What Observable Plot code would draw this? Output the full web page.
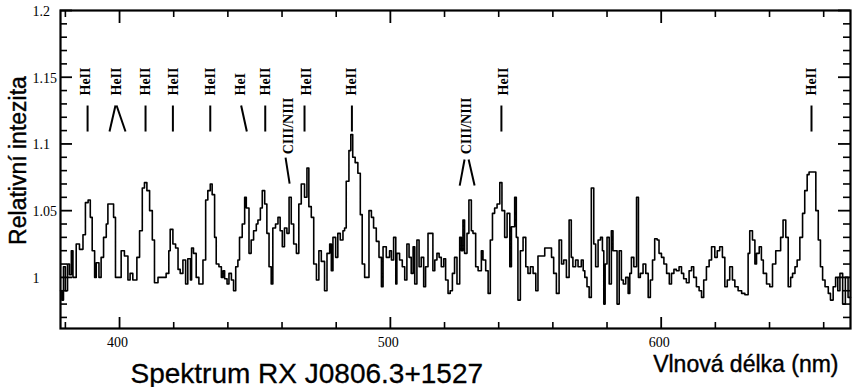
<!DOCTYPE html>
<html><head><meta charset="utf-8">
<script src="https://cdn.jsdelivr.net/npm/d3@7"></script>
<script src="https://cdn.jsdelivr.net/npm/@observablehq/plot@0.6"></script>
<style>body{margin:0;background:#fff}</style>
</head><body><div id="chart"></div>
<script>
const wavelength = [378.2,378.7,379.3,380.0,380.8,381.5,382.2,382.8,384.0,385.2,386.5,387.4,388.4,389.2,389.9,390.8,391.4,392.4,393.2,394.1,395.1,395.7,397.8,398.5,400.6,401.8,403.1,403.9,404.9,406.4,407.4,408.4,409.2,410.1,411.1,412.1,412.9,414.2,417.2,418.2,418.7,419.7,420.7,421.6,422.4,423.4,424.4,425.2,426.2,426.6,427.3,428.3,429.3,430.8,431.8,432.6,433.5,434.2,435.1,435.7,436.7,437.6,438.2,438.8,439.7,440.4,441.3,442.1,442.9,443.7,444.3,445.3,446.2,446.8,447.8,448.6,449.5,450.5,451.1,452.0,452.7,453.6,454.4,455.2,456.0,456.6,457.6,458.5,459.3,460.1,460.9,461.8,462.6,463.4,464.3,465.3,466.2,467.1,468.3,469.2,469.9,470.8,471.7,472.7,473.6,474.5,475.7,476.6,477.6,478.2,478.8,479.8,480.6,481.5,482.5,483.1,483.7,484.7,485.4,486.1,487.0,488.0,488.9,489.6,490.5,492.1,493.0,493.8,494.8,495.8,496.7,497.3,498.5,499.7,500.4,501.2,502.0,502.4,503.4,504.4,505.3,506.1,506.9,507.7,508.4,509.0,509.8,510.6,511.4,512.3,513.0,513.9,515.7,516.4,517.2,518.0,518.8,519.7,520.4,521.3,522.1,522.9,523.7,524.6,525.6,526.2,526.8,527.4,528.3,529.0,529.9,530.5,531.5,532.4,533.6,534.2,535.2,536.1,536.9,537.7,538.5,539.4,540.4,541.2,542.2,543.1,544.1,544.7,545.9,546.5,547.1,548.0,549.0,550.0,550.8,551.7,552.7,553.7,554.5,557.0,559.5,560.3,561.3,562.3,563.2,564.0,565.0,566.0,566.8,567.4,568.4,569.3,570.5,571.2,571.8,572.6,573.4,574.2,575.1,575.8,576.7,577.6,578.3,578.8,579.3,580.0,580.8,581.6,582.2,583.7,584.5,585.3,586.0,586.9,587.8,588.4,589.0,589.9,590.9,591.6,592.3,593.3,594.3,595.2,596.0,596.8,597.6,598.5,599.2,600.1,601.0,602.0,603.0,603.8,604.7,605.6,606.6,607.5,608.3,609.3,610.3,611.2,612.0,613.0,614.0,614.9,615.7,616.7,617.7,618.6,619.8,620.7,621.6,622.6,623.5,624.4,625.3,626.3,627.2,628.4,629.7,630.9,632.1,632.7,633.7,634.6,635.2,636.2,637.0,637.7,638.9,640.1,641.1,642.3,644.1,645.0,646.0,646.9,647.8,648.5,649.4,650.2,651.2,652.2,653.0,653.9,654.6,657.1,658.0,658.8,659.6,660.5,661.7,662.5,663.5,664.4,665.2,666.0,667.0,668.0,669.0,669.9];
const intensity = [0.99,0.983,1.008,0.99,1.01,1.002,1.02,1.0,1.025,1.021,1.032,1.056,1.058,1.045,1.02,1.0,1.011,1.0,1.015,1.03,1.04,1.055,1.045,1.0,1.02,1.016,0.998,1.003,0.998,1.015,1.035,1.067,1.071,1.065,1.05,1.028,0.996,1.0,1.003,1.02,1.036,1.025,1.022,1.006,1.003,1.013,0.995,1.014,0.998,1.022,1.018,1.0,0.995,1.013,1.058,1.065,1.07,1.062,1.03,1.01,1.008,1.0,1.005,0.999,0.995,1.003,0.998,0.99,1.008,1.013,1.03,1.04,1.06,1.052,1.018,1.028,1.035,1.04,1.043,1.052,1.065,1.055,1.033,1.008,0.995,1.037,1.04,1.045,1.035,1.023,1.037,1.033,1.06,1.04,1.025,1.018,1.055,1.07,1.06,1.082,1.053,1.045,1.01,0.998,1.02,1.012,0.99,1.018,1.025,1.005,1.03,1.015,1.033,1.028,1.035,1.037,1.072,1.095,1.107,1.09,1.086,1.078,1.047,1.01,1.0,1.05,1.045,1.037,1.027,1.015,0.993,1.023,1.015,1.02,1.013,1.03,0.995,1.018,1.013,1.008,0.998,1.025,1.015,1.003,1.023,0.995,1.028,1.008,1.015,0.993,1.008,1.033,1.005,1.013,1.018,1.015,1.008,1.014,0.998,0.988,0.99,1.003,1.015,0.995,1.03,1.02,1.043,1.018,1.033,1.058,1.035,1.033,1.008,1.005,1.02,1.013,1.005,0.988,1.028,1.048,1.052,1.055,1.071,1.05,1.03,1.048,1.008,1.038,1.06,1.03,0.983,1.02,1.03,1.008,1.003,1.008,1.003,0.99,1.016,1.022,1.015,1.003,0.988,1.028,1.01,1.013,1.0,1.043,1.015,1.008,1.013,1.008,1.013,1.005,1.0,0.993,0.985,1.067,1.025,1.008,1.028,1.03,1.02,0.98,1.01,1.03,0.995,1.035,1.02,0.98,1.02,0.998,0.995,1.0,0.988,1.003,1.015,1.008,1.06,1.0,1.003,1.01,1.003,0.985,0.998,1.013,1.029,1.028,1.018,1.015,1.01,1.003,0.995,1.003,1.006,1.005,1.008,1.003,0.999,0.996,1.005,1.008,1.0,0.993,0.99,0.985,0.998,1.008,1.013,1.023,1.015,1.02,1.023,1.015,0.993,0.998,1.008,0.998,0.993,0.99,0.988,0.987,1.018,1.035,1.028,1.01,1.018,1.023,1.013,1.003,0.995,0.993,1.01,1.02,1.03,1.043,1.03,0.993,1.0,1.003,1.008,1.013,1.03,1.048,1.065,1.077,1.079,1.05,1.028,1.008,0.998,0.993,0.988,0.983,0.993,1.0,0.99,1.003,0.98,1.0,0.985,0.985];

const xTickValues = [400, 500, 600];
const xTickLabels = ["400", "500", "600"];
const xMinorTicks = [380,420,440,460,480,520,540,560,580,620,640,660];
const yTickValues = [1, 1.05, 1.1, 1.15, 1.2];
const yTickLabels = ["1", "1.05", "1.1", "1.15", "1.2"];
const yMinorTicks = [0.97,0.98,0.99,1.01,1.02,1.03,1.04,1.06,1.07,1.08,1.09,1.11,1.12,1.13,1.14,1.16,1.17,1.18,1.19];

// He lines: label bottoms sit just above the marker ticks
const heNames = ["HeII","HeII","HeII","HeII","HeII","HeI","HeII","HeII","HeII","HeII","HeII"];
const heLabelX = [387.4,398.9,409.6,420.0,433.6,444.7,454.0,469.1,485.8,541.6,655.4];
const heLabelY = 1.1363;
// CIII/NIII blends: label tops at the same height
const cnNames = ["CIII/NIII","CIII/NIII"];
const cnLabelX = [462.5,528.1];
const cnLabelY = 1.1348;

const markerX1 = [388.2,396.3,398.9,409.6,419.7,433.5,444.9,453.8,461.3,468.3,485.8,525.6,528.9,541.0,655.5];
const markerX2 = [388.2,398.5,402.2,409.6,419.7,433.5,447.0,453.8,462.8,468.3,485.8,527.4,531.1,541.0,655.5];
const markerY1 = [1.1288,1.1093,1.1288,1.1288,1.1288,1.1288,1.1288,1.1288,1.0898,1.1288,1.1288,1.0688,1.0883,1.1288,1.1288];
const markerY2 = [1.1093,1.1288,1.1093,1.1093,1.1093,1.1093,1.1093,1.1093,1.0703,1.1093,1.1093,1.0883,1.0688,1.1093,1.1093];

const spectrum = wavelength.map((w, i) => ({w, v: intensity[i]}));
const heLabels = heNames.map((t, i) => ({t, x: heLabelX[i], y: heLabelY}));
const cnLabels = cnNames.map((t, i) => ({t, x: cnLabelX[i], y: cnLabelY}));
const markers = markerX1.map((x1, i) => ({x1, x2: markerX2[i], y1: markerY1[i], y2: markerY2[i]}));

const W = 790, H = 318;
const serif = "'Liberation Serif','Times New Roman',serif";
const sans = "'Liberation Sans',Arial,sans-serif";

const chart = Plot.plot({
  width: 852, height: 387,
  marginLeft: 60, marginRight: 2, marginTop: 10, marginBottom: 59,
  x: {domain: [378.2, 669.9], axis: null},
  y: {domain: [0.9617, 1.2], axis: null},
  style: {background: "#fff"},
  marks: [
    Plot.tickX(xMinorTicks, {x: d => d, insetTop: H - 6, strokeWidth: 1.6}),
    Plot.tickX(xTickValues, {x: d => d, insetTop: H - 11, strokeWidth: 1.8}),
    Plot.tickX(xMinorTicks, {x: d => d, insetBottom: H - 7, strokeWidth: 1.6}),
    Plot.tickX(xTickValues, {x: d => d, insetBottom: H - 13, strokeWidth: 1.8}),
    Plot.tickY(yMinorTicks, {y: d => d, insetRight: W - 7, strokeWidth: 1.6}),
    Plot.tickY(yTickValues, {y: d => d, insetRight: W - 12, strokeWidth: 1.8}),
    Plot.tickY(yMinorTicks, {y: d => d, insetLeft: W - 7, strokeWidth: 1.6}),
    Plot.tickY(yTickValues, {y: d => d, insetLeft: W - 12, strokeWidth: 1.8}),
    Plot.frame({strokeWidth: 2.2}),
    Plot.line(spectrum, {x: "w", y: "v", curve: "step-after", strokeWidth: 1.6, stroke: "black"}),
    Plot.link(markers, {x1: "x1", y1: "y1", x2: "x2", y2: "y2", strokeWidth: 2, stroke: "black"}),
    Plot.text(heLabels, {x: "x", y: "y", text: "t", rotate: -90, textAnchor: "start", lineAnchor: "middle",
      fontFamily: serif, fontWeight: "bold", fontSize: 14, fill: "black"}),
    Plot.text(cnLabels, {x: "x", y: "y", text: "t", rotate: -90, textAnchor: "end", lineAnchor: "middle",
      fontFamily: serif, fontWeight: "bold", fontSize: 14, fill: "black"}),
    Plot.text(yTickValues, {x: () => 378.2, y: d => d, text: (d, i) => yTickLabels[i], textAnchor: "start", dx: -28, dy: 1,
      fontFamily: serif, fontSize: 14, fill: "black"}),
    Plot.text(xTickValues, {x: d => d, y: () => 0.9617, text: (d, i) => xTickLabels[i], dy: 14, dx: -2,
      fontFamily: serif, fontSize: 14, fill: "black"}),
    Plot.text(["Relativní intezita"], {frameAnchor: "left", dx: -42, dy: -9, rotate: -90, textAnchor: "middle", lineAnchor: "middle",
      fontFamily: sans, fontSize: 23, fill: "black", stroke: "black", strokeWidth: 0.4}),
    Plot.text(["Vlnová délka (nm)"], {frameAnchor: "bottom-right", dx: -12, dy: 43, textAnchor: "end", lineAnchor: "bottom",
      fontFamily: sans, fontSize: 23, fill: "black", stroke: "black", strokeWidth: 0.4}),
    Plot.text(["Spektrum RX J0806.3+1527"], {frameAnchor: "bottom-left", dx: 70, dy: 54, textAnchor: "start", lineAnchor: "bottom",
      fontFamily: sans, fontSize: 28, fill: "black", stroke: "black", strokeWidth: 0.3})
  ]
});
document.getElementById("chart").appendChild(chart);
</script>
</body></html>
